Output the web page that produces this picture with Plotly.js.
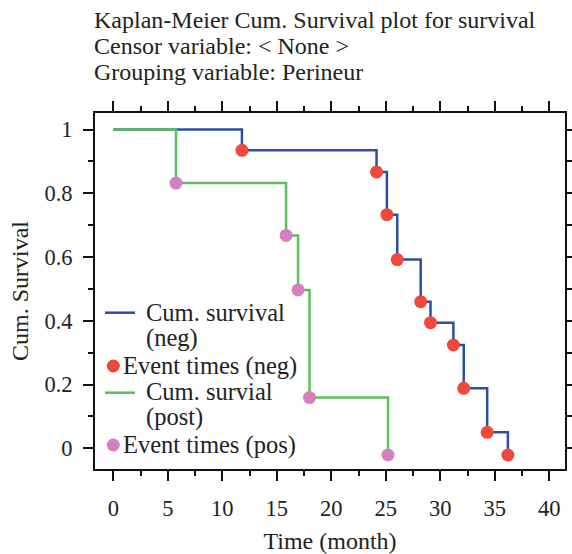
<!DOCTYPE html>
<html>
<head>
<meta charset="utf-8">
<script src="https://cdn.plot.ly/plotly-3.0.1.min.js"></script>
<style>html,body{margin:0;padding:0;background:#fff;}#chart{width:572px;height:554px;}</style>
</head>
<body>
<div id="chart"></div>
<script>
// Data
const timesNeg = [11.8, 24.15, 25.1, 26.05, 28.2, 29.1, 31.2, 32.15, 34.3, 36.2];
const survNeg  = [0.935, 0.867, 0.733, 0.592, 0.46, 0.394, 0.324, 0.188, 0.05, -0.021];
const timesPos = [5.75, 15.85, 16.95, 18.0, 25.2];
const survPos  = [0.832, 0.668, 0.497, 0.159, -0.021];
const startTime = 0;
const startSurv = 1;
const titleLines = ["Kaplan-Meier Cum. Survival plot for survival", "Censor variable: < None >", "Grouping variable: Perineur"];
const legendLabels = [["Cum. survival", "(neg)"], ["Event times (neg)"], ["Cum. survial", "(post)"], ["Event times (pos)"]];

const FONT = "Liberation Serif, Times New Roman, serif";
const TXT = "#222222";
const BLUE = "#2b50a2", GREEN = "#5bbf5b", RED = "#f0483a", PINK = "#d67fbf";

const W = 572, H = 554;
const M = {l: 95, r: 7, t: 113, b: 85};
const PW = W - M.l - M.r, PH = H - M.t - M.b;
const px = x => (x - M.l) / PW;
const py = y => (H - M.b - y) / PH;

const traces = [
  {x: [startTime].concat(timesNeg), y: [startSurv].concat(survNeg), mode: 'lines', line: {color: BLUE, width: 2.5, shape: 'hv'}, showlegend: false, hoverinfo: 'skip'},
  {x: [startTime].concat(timesPos), y: [startSurv].concat(survPos), mode: 'lines', line: {color: GREEN, width: 2.5, shape: 'hv'}, showlegend: false, hoverinfo: 'skip'},
  {x: timesNeg, y: survNeg, mode: 'markers', marker: {color: RED, size: 13}, showlegend: false},
  {x: timesPos, y: survPos, mode: 'markers', marker: {color: PINK, size: 13}, showlegend: false}
];

const annotations = [];
const titleY = [20, 46, 72];
titleLines.forEach((t, i) => annotations.push({
  text: t, xref: 'paper', yref: 'paper', x: px(92), y: py(titleY[i]), xanchor: 'left', yanchor: 'middle',
  showarrow: false, font: {family: FONT, size: 24, color: TXT}
}));

// custom legend
const legTextRows = [
  {t: legendLabels[0][0], x: 144, y: 312},
  {t: legendLabels[0][1], x: 144, y: 338},
  {t: legendLabels[1][0], x: 121, y: 366},
  {t: legendLabels[2][0], x: 144, y: 391},
  {t: legendLabels[2][1], x: 144, y: 417},
  {t: legendLabels[3][0], x: 121, y: 445}
];
legTextRows.forEach(r => annotations.push({
  text: r.t, xref: 'paper', yref: 'paper', x: px(r.x), y: py(r.y), xanchor: 'left', yanchor: 'middle',
  showarrow: false, font: {family: FONT, size: 24.5, color: TXT}
}));

const shapes = [
  {type: 'line', xref: 'paper', yref: 'paper', x0: px(105), x1: px(135), y0: py(312.7), y1: py(312.7), line: {color: BLUE, width: 2.5}},
  {type: 'line', xref: 'paper', yref: 'paper', x0: px(105), x1: px(135), y0: py(392.7), y1: py(392.7), line: {color: GREEN, width: 2.5}},
  {type: 'circle', xref: 'paper', yref: 'paper', xsizemode: 'pixel', ysizemode: 'pixel', xanchor: px(113.3), yanchor: py(366), x0: -6.5, x1: 6.5, y0: -6.5, y1: 6.5, fillcolor: RED, line: {width: 0}},
  {type: 'circle', xref: 'paper', yref: 'paper', xsizemode: 'pixel', ysizemode: 'pixel', xanchor: px(113.3), yanchor: py(445), x0: -6.5, x1: 6.5, y0: -6.5, y1: 6.5, fillcolor: PINK, line: {width: 0}}
];

const layout = {
  width: W, height: H,
  margin: M,
  paper_bgcolor: '#fff', plot_bgcolor: '#fff',
  showlegend: false,
  font: {family: FONT, size: 22, color: TXT},
  xaxis: {
    range: [-1.68, 41.44], tickmode: 'linear', tick0: 0, dtick: 5,
    ticks: 'outside', ticklen: 10, tickwidth: 2, tickcolor: '#111',
    minor: {dtick: 2.5, tick0: 0, ticks: 'outside', ticklen: 5, tickwidth: 2, tickcolor: '#111'},
    showline: true, linewidth: 2, linecolor: '#111', mirror: 'ticks',
    showgrid: false, zeroline: false,
    tickfont: {family: FONT, size: 22.5, color: TXT}, ticklabelstandoff: 8,
    title: {text: 'Time (month)', font: {family: FONT, size: 24, color: TXT}, standoff: 13}
  },
  yaxis: {
    range: [-0.065, 1.052], tickmode: 'linear', tick0: 0, dtick: 0.2,
    ticks: 'outside', ticklen: 10, tickwidth: 2, tickcolor: '#111',
    minor: {dtick: 0.1, tick0: 0, ticks: 'outside', ticklen: 5, tickwidth: 2, tickcolor: '#111'},
    showline: true, linewidth: 2, linecolor: '#111', mirror: 'ticks',
    showgrid: false, zeroline: false,
    tickfont: {family: FONT, size: 22.5, color: TXT}, ticklabelstandoff: 6,
    title: {text: 'Cum. Survival', font: {family: FONT, size: 24, color: TXT}, standoff: 9}
  },
  annotations: annotations,
  shapes: shapes
};

Plotly.newPlot('chart', traces, layout, {displayModeBar: false, staticPlot: true});
</script>
</body>
</html>
